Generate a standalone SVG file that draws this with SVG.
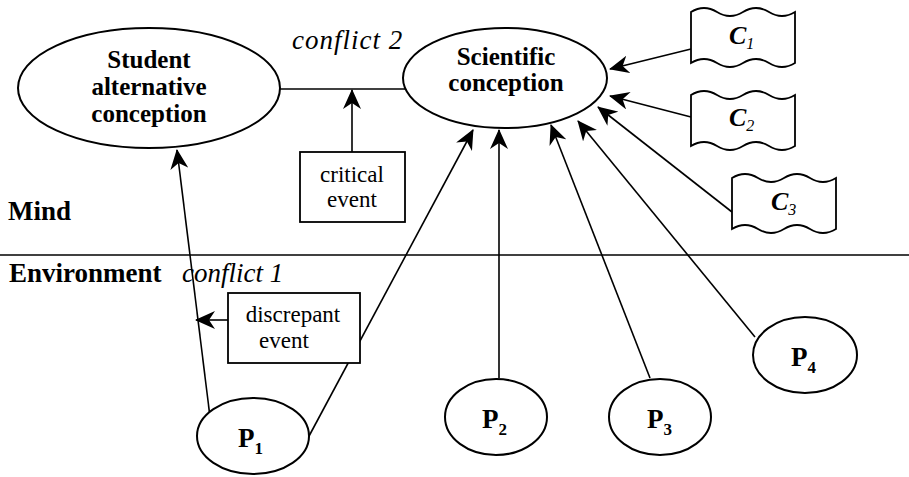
<svg xmlns="http://www.w3.org/2000/svg" width="909" height="477" viewBox="0 0 909 477" font-family="Liberation Serif, DejaVu Serif, serif">
<defs>
<style>
.bg{fill:#fff}
.shape{fill:#fff;stroke:#000;stroke-width:2}
.box{fill:#fff;stroke:#000;stroke-width:1.8}
.ln{fill:none;stroke:#000;stroke-width:1.6}
.b{font-weight:bold;font-size:25px}
.it{font-style:italic;font-size:27px}
.ev{font-size:23px}
.c{font-style:italic;font-weight:bold;font-size:26px}
.cs{font-style:italic;font-size:16px}
.ps{font-weight:bold;font-size:17px}
</style>
<marker id="arr" viewBox="0 0 20 18" refX="19" refY="9" markerWidth="20" markerHeight="18" markerUnits="userSpaceOnUse" orient="auto">
<path d="M0,0 L20,9 L0,18 L6,9 Z" fill="#000"/>
</marker>
<path id="flag" d="M0,6 Q13,-2 26,6 T52,6 T78,6 T104,6 L104,57 Q91,65 78,57 T52,57 T26,57 T0,57 Z"/>
</defs>
<rect class="bg" x="0" y="0" width="909" height="477"/>

<g id="labels">
<text class="b" x="8" y="220" style="font-size:27px">Mind</text>
<line class="ln" x1="0" y1="255" x2="909" y2="255"/>
<text class="b" x="9" y="282" style="font-size:27px">Environment</text>
<text class="it" x="182" y="282">conflict 1</text>
<text class="it" x="292" y="49" letter-spacing="1">conflict 2</text>
</g>

<g id="connectors">
<line class="ln" x1="280" y1="89" x2="405" y2="89"/>
<line class="ln" x1="352" y1="152" x2="352" y2="90" marker-end="url(#arr)"/>
<line class="ln" x1="228" y1="320" x2="196" y2="320" marker-end="url(#arr)"/>
<line class="ln" x1="210" y1="417" x2="177" y2="150" marker-end="url(#arr)"/>
<line class="ln" x1="308" y1="438" x2="473" y2="130" marker-end="url(#arr)"/>
<line class="ln" x1="499" y1="378" x2="499" y2="130" marker-end="url(#arr)"/>
<line class="ln" x1="650" y1="378" x2="551" y2="125" marker-end="url(#arr)"/>
<line class="ln" x1="755" y1="337" x2="578" y2="121" marker-end="url(#arr)"/>
<line class="ln" x1="732" y1="212" x2="598" y2="107" marker-end="url(#arr)"/>
<line class="ln" x1="691" y1="117" x2="610" y2="96" marker-end="url(#arr)"/>
<line class="ln" x1="691" y1="49" x2="610" y2="69" marker-end="url(#arr)"/>
</g>

<g id="student">
<ellipse class="shape" cx="149" cy="88" rx="131" ry="60"/>
<text class="b" x="149" y="68" text-anchor="middle">Student</text>
<text class="b" x="149" y="95" text-anchor="middle">alternative</text>
<text class="b" x="149" y="122" text-anchor="middle">conception</text>
</g>

<g id="scientific">
<ellipse class="shape" cx="505" cy="78" rx="102" ry="50"/>
<text class="b" x="506" y="65" text-anchor="middle">Scientific</text>
<text class="b" x="506" y="91" text-anchor="middle">conception</text>
</g>

<g id="critical">
<rect class="box" x="300" y="152" width="105" height="70"/>
<text class="ev" x="352" y="182" text-anchor="middle">critical</text>
<text class="ev" x="352" y="207" text-anchor="middle">event</text>
</g>

<g id="discrepant">
<rect class="box" x="228" y="293" width="132" height="70"/>
<text class="ev" x="293" y="322" text-anchor="middle">discrepant</text>
<text class="ev" x="284" y="348" text-anchor="middle">event</text>
</g>

<g id="c1">
<use href="#flag" class="box" transform="translate(691,6)"/>
<text x="729" y="44"><tspan class="c">C</tspan><tspan class="cs" dy="5">1</tspan></text>
</g>
<g id="c2">
<use href="#flag" class="box" transform="translate(691,89)"/>
<text x="729" y="126"><tspan class="c">C</tspan><tspan class="cs" dy="5">2</tspan></text>
</g>
<g id="c3">
<use href="#flag" class="box" transform="translate(732,172)"/>
<text x="771" y="210"><tspan class="c">C</tspan><tspan class="cs" dy="5">3</tspan></text>
</g>

<g id="p1">
<ellipse class="shape" cx="253" cy="436" rx="56" ry="38"/>
<text x="238" y="447"><tspan class="b" style="font-size:27px">P</tspan><tspan class="ps" dy="7">1</tspan></text>
</g>
<g id="p2">
<ellipse class="shape" cx="496" cy="417" rx="51" ry="38"/>
<text x="482" y="428"><tspan class="b" style="font-size:27px">P</tspan><tspan class="ps" dy="7">2</tspan></text>
</g>
<g id="p3">
<ellipse class="shape" cx="660" cy="417" rx="51" ry="38"/>
<text x="647" y="428"><tspan class="b" style="font-size:27px">P</tspan><tspan class="ps" dy="7">3</tspan></text>
</g>
<g id="p4">
<ellipse class="shape" cx="805" cy="355" rx="52" ry="38"/>
<text x="791" y="366"><tspan class="b" style="font-size:27px">P</tspan><tspan class="ps" dy="7">4</tspan></text>
</g>
</svg>
